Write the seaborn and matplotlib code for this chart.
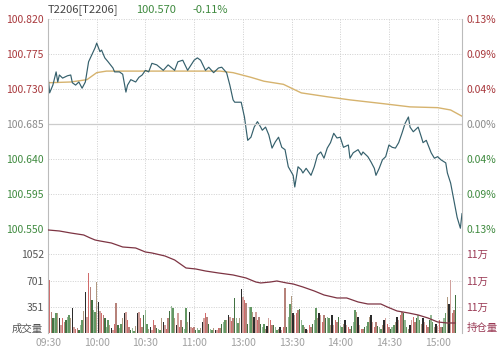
import matplotlib
matplotlib.use("Agg")
import matplotlib.pyplot as plt
import seaborn as sns
import pandas as pd
import numpy as np

# ---- data ----
price_min = [0, 1, 3, 5, 6, 7, 9, 12, 14, 15, 17, 19, 21, 23, 25, 27, 29, 30, 32, 33, 35, 37, 40, 41,
             44, 46, 48, 49, 51, 54, 56, 58, 60, 62, 64, 67, 71, 74, 78, 80, 83, 86, 90, 92, 94, 97,
             99, 102, 105, 107, 110, 112, 114, 115, 119, 121, 123, 125, 127, 129, 131, 132, 134, 136,
             138, 140, 142, 144, 146, 148, 151, 152, 154, 156, 157, 159, 162, 164, 166, 168, 170, 172,
             174, 176, 178, 180, 182, 185, 186, 188, 191, 193, 194, 197, 199, 201, 202, 204, 206, 208,
             210, 212, 214, 216, 218, 220, 222, 223, 225, 228, 230, 231, 233, 236, 238, 240, 242, 245,
             246, 248, 250, 252, 254, 255]
price_val = [100.748, 100.725, 100.735, 100.752, 100.739, 100.748, 100.744, 100.747, 100.748, 100.738,
             100.735, 100.739, 100.731, 100.739, 100.765, 100.774, 100.783, 100.789, 100.778, 100.780,
             100.770, 100.765, 100.757, 100.752, 100.752, 100.749, 100.726, 100.735, 100.742, 100.739,
             100.745, 100.748, 100.754, 100.752, 100.763, 100.761, 100.754, 100.761, 100.754, 100.765,
             100.767, 100.754, 100.767, 100.770, 100.767, 100.754, 100.758, 100.751, 100.757, 100.758,
             100.751, 100.735, 100.716, 100.713, 100.713, 100.694, 100.664, 100.668, 100.681, 100.688,
             100.681, 100.677, 100.681, 100.671, 100.654, 100.662, 100.668, 100.655, 100.652, 100.630,
             100.619, 100.604, 100.630, 100.626, 100.622, 100.628, 100.619, 100.630, 100.645, 100.649,
             100.641, 100.654, 100.661, 100.673, 100.667, 100.668, 100.655, 100.658, 100.641, 100.648,
             100.652, 100.645, 100.649, 100.643, 100.636, 100.628, 100.619, 100.628, 100.639, 100.643,
             100.658, 100.655, 100.654, 100.661, 100.673, 100.686, 100.694, 100.681, 100.675, 100.681,
             100.668, 100.661, 100.664, 100.648, 100.641, 100.643, 100.639, 100.635, 100.622, 100.609,
             100.587, 100.565, 100.551, 100.570]

avg_min = [0, 14, 24, 30, 36, 63, 106, 114, 125, 133, 145, 156, 172, 186, 207, 223, 240, 248, 255]
avg_val = [100.738, 100.739, 100.742, 100.751, 100.753, 100.753, 100.753, 100.751, 100.745, 100.740,
           100.736, 100.725, 100.720, 100.716, 100.711, 100.707, 100.706, 100.703, 100.695]

oi_min = [0, 7, 14, 22, 26, 29, 32, 39, 46, 54, 60, 64, 72, 78, 85, 91, 97, 105, 114, 122, 128, 131,
          137, 141, 147, 151, 157, 164, 170, 178, 184, 191, 197, 205, 209, 215, 222, 228, 234, 240,
          246, 251]
oi_val = [113906, 113868, 113792, 113717, 113604, 113528, 113491, 113415, 113264, 113226, 113075,
          113038, 112925, 112774, 112472, 112434, 112358, 112283, 112208, 112094, 111943, 111906,
          111943, 111981, 111906, 111868, 111755, 111604, 111453, 111340, 111340, 111189, 111113,
          111113, 111000, 110849, 110774, 110698, 110585, 110434, 110396, 110396]

volume = [1390, 706, 287, 200, 210, 274, 265, 200, 110, 200, 155, 185, 220, 243, 200,
          331, 90, 60, 70, 40, 110, 180, 300, 552, 220, 795, 618, 441, 310, 287,
          684, 419, 300, 265, 243, 200, 90, 177, 110, 70, 40, 120, 406, 110, 70,
          130, 200, 265, 287, 177, 90, 40, 70, 30, 100, 270, 287, 200, 90, 240,
          309, 130, 60, 90, 40, 177, 110, 70, 60, 40, 200, 155, 110, 60, 200,
          300, 362, 340, 200, 110, 265, 90, 177, 90, 60, 340, 155, 290, 90, 70,
          90, 40, 70, 40, 70, 155, 200, 265, 220, 130, 60, 40, 70, 40, 40,
          70, 70, 130, 150, 177, 180, 243, 220, 170, 200, 464, 200, 140, 200, 583,
          480, 440, 400, 130, 350, 353, 287, 221, 287, 177, 221, 120, 88, 132, 66,
          100, 199, 177, 110, 110, 88, 44, 60, 88, 44, 80, 596, 88, 221, 388,
          494, 265, 243, 265, 309, 318, 177, 110, 88, 66, 50, 110, 88, 120, 177,
          331, 199, 265, 243, 155, 243, 199, 221, 199, 110, 243, 110, 177, 155, 221,
          100, 88, 132, 177, 110, 88, 66, 100, 155, 309, 287, 221, 110, 60, 66,
          88, 100, 155, 221, 243, 155, 88, 155, 100, 88, 60, 110, 177, 199, 132,
          88, 66, 80, 110, 155, 221, 177, 243, 287, 265, 177, 88, 66, 110, 177,
          221, 155, 199, 243, 177, 120, 199, 155, 110, 90, 177, 243, 155, 88, 132,
          100, 177, 88, 88, 199, 265, 486, 397, 715, 265, 309, 508]

time_labels = ["09:30", "10:00", "10:30", "11:00", "13:00", "13:30", "14:00", "14:30", "15:00"]
price_ticks = [100.820, 100.775, 100.730, 100.685, 100.640, 100.595, 100.550]
pct_labels = ["0.13%", "0.09%", "0.04%", "0.00%", "0.04%", "0.09%", "0.13%"]
vol_ticks = [351, 701, 1052]
oi_ticks = [111000, 112000, 113000]

# ---- style ----
sns.set_style("white")
plt.rcParams['font.family'] = ['Noto Sans CJK SC', 'DejaVu Sans']
RED = "#a8383c"
GREEN = "#3f8a3f"
GRAY = "#8a8a8a"
GRID = "#cfcfcf"

fig = plt.figure(figsize=(5.0, 3.51), dpi=100)
ax = fig.add_axes([0.096, 0.3476, 0.828, 0.5983])
axv = fig.add_axes([0.096, 0.0499, 0.828, 0.2977])

df_p = pd.DataFrame({"m": price_min, "v": price_val})
df_a = pd.DataFrame({"m": avg_min, "v": avg_val})
sns.lineplot(data=df_a, x="m", y="v", ax=ax, color="#d6b36e", lw=1.0)
sns.lineplot(data=df_p, x="m", y="v", ax=ax, color="#35606c", lw=0.85)
ax.set_xlim(0, 255)
ax.set_ylim(100.550, 100.820)
ax.set_yticks(price_ticks)
ax.set_yticklabels([f"{v:.3f}" for v in price_ticks])
ax.set_xticks(np.arange(0, 256, 30))
ax.set_xticklabels([])
ax.set_xlabel("")
ax.set_ylabel("")
ax.tick_params(length=0, labelsize=7.5, pad=3)
for i, t in enumerate(ax.get_yticklabels()):
    t.set_color(RED if i < 3 else (GRAY if i == 3 else GREEN))
ax.grid(True, color=GRID, ls=(0, (1, 1.5)), lw=0.7)
ax.axhline(100.685, color="#cccccc", lw=0.9)
ax.axhline(100.550, color=GRID, ls=(0, (1, 1.5)), lw=0.7, clip_on=False)
axr = ax.twinx()
axr.set_ylim(ax.get_ylim())
axr.set_yticks(price_ticks)
axr.set_yticklabels(pct_labels)
axr.tick_params(length=0, labelsize=7.5, pad=3)
for i, t in enumerate(axr.get_yticklabels()):
    t.set_color(RED if i < 3 else (GRAY if i == 3 else GREEN))

# volume bars
bar_cols = ["#d89a94", "#3a7a3a", "#b89a7a", "#e25a5a", "#8fbf8f", "#2b2b2b", "#c07a70", "#5aa05a"]
df_v = pd.DataFrame({"m": np.arange(len(volume)), "v": volume})
df_v["c"] = [str((i * 3) % len(bar_cols)) for i in range(len(volume))]
sns.barplot(data=df_v, x="m", y="v", hue="c", palette={str(k): c for k, c in enumerate(bar_cols)},
            native_scale=True, dodge=False, width=0.85, legend=False, ax=axv, linewidth=0)
axv.set_xlim(0, 255)
axv.set_ylim(0, 1384)
axv.set_yticks(vol_ticks)
axv.set_yticklabels([str(v) for v in vol_ticks], color="#555555")
axv.set_xticks(np.arange(0, 256, 30))
axv.set_xticklabels(time_labels, color="#a0a0a0")
axv.set_xlabel("")
axv.set_ylabel("")
axv.tick_params(length=0, labelsize=7.5, pad=3)
axv.grid(True, color=GRID, ls=(0, (1, 1.5)), lw=0.7)
axv.set_axisbelow(True)
axv.text(-0.012, 0.05, "成交量", transform=axv.transAxes, ha="right", va="center",
         fontsize=7.5, color="#555555")

axo = axv.twinx()
df_o = pd.DataFrame({"m": oi_min, "v": oi_val})
sns.lineplot(data=df_o, x="m", y="v", ax=axo, color="#7d3443", lw=0.9)
axo.set_ylim(110000, 113943)
axo.set_yticks(oi_ticks)
axo.set_yticklabels([f"{v / 1e4:.0f}万" for v in oi_ticks], color="#9a3a55")
axo.set_ylabel("")
axo.tick_params(length=0, labelsize=7.5, pad=3)
axo.text(1.012, 0.05, "持仓量", transform=axo.transAxes, ha="left", va="center",
         fontsize=7.5, color="#9a3a55")

for a in (ax, axr, axv, axo):
    for s in a.spines.values():
        s.set_visible(False)
for a in (ax, axv):
    for side in ("left", "right"):
        a.spines[side].set_visible(True)
        a.spines[side].set_color("#bbbbbb")
        a.spines[side].set_linewidth(0.8)

# header
fig.text(0.096, 0.972, "T2206[T2206]", fontsize=8, color="#444444", va="center")
fig.text(0.272, 0.972, "100.570", fontsize=8, color=GREEN, va="center")
fig.text(0.384, 0.972, "-0.11%", fontsize=8, color=GREEN, va="center")

fig.savefig("out.png", dpi=100)
